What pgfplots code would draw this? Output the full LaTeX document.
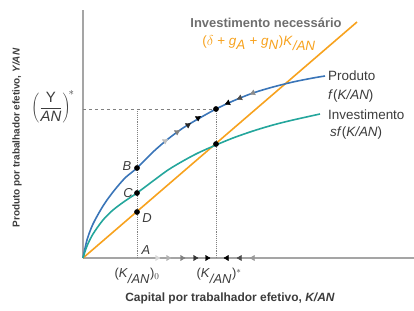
\documentclass[border=0pt]{standalone}
\usepackage{fontspec}
\setmainfont{Liberation Sans}
\usepackage{pgfplots}
\pgfplotsset{compat=1.18}
\definecolor{cblue}{RGB}{58,117,184}
\definecolor{cteal}{RGB}{36,166,156}
\definecolor{corange}{RGB}{247,162,30}
\definecolor{cgray}{RGB}{110,110,110}
\definecolor{caxis}{RGB}{165,165,165}
\definecolor{ctxt}{RGB}{60,60,60}
\begin{document}
\begin{tikzpicture}
\path[use as bounding box, clip] (-83bp,-53bp) rectangle (331bp,258bp);
\begin{axis}[
  at={(0,0)}, anchor=south west,
  scale only axis, width=331bp, height=248bp,
  xmin=0, xmax=331, ymin=0, ymax=248,
  axis lines*=left,
  axis line style={caxis, line width=2bp},
  xtick=\empty, ytick=\empty,
  clip=false,
]
% guide lines
\addplot[gray, dashed, line width=0.7bp] coordinates {(0,149) (133,149)};
\addplot[gray, densely dotted, line width=0.9bp] coordinates {(133,0) (133,149)};
\addplot[gray, densely dotted, line width=0.9bp] coordinates {(54,0) (54,149)};
% orange required investment
\addplot[corange, line width=1.6bp] coordinates {(0,0) (274,236)};
% output f
\addplot[cblue, line width=1.6bp, smooth] coordinates {
(0,0) (4,18) (10,34) (20,52) (30,66) (42,80) (54,90) (70,106) (85,119) (100,130)
(115,139) (133,149) (150,157) (170,165) (190,171) (210,176) (230,180) (242,182)};
% investment sf
\addplot[cteal, line width=1.6bp, smooth] coordinates {
(0,0) (4,12) (10,24) (20,38) (30,48) (42,57) (54,65) (70,77) (85,88) (100,97)
(115,105) (133,113) (150,120) (170,127) (190,133) (210,138) (237,144)};
% arrows on f
\addplot[only marks, mark=triangle*, mark size=3bp, color=black!25, mark options={rotate=-57}] coordinates {(82,117)};
\addplot[only marks, mark=triangle*, mark size=3bp, color=black!50, mark options={rotate=-57}] coordinates {(94,126)};
\addplot[only marks, mark=triangle*, mark size=3bp, color=black!85, mark options={rotate=-57}] coordinates {(105,133)};
\addplot[only marks, mark=triangle*, mark size=3bp, color=black, mark options={rotate=-57}] coordinates {(115,140)};
\addplot[only marks, mark=triangle*, mark size=3bp, color=black, mark options={rotate=112}] coordinates {(145,155)};
\addplot[only marks, mark=triangle*, mark size=3bp, color=black!70, mark options={rotate=112}] coordinates {(157,160)};
\addplot[only marks, mark=triangle*, mark size=3bp, color=black!45, mark options={rotate=112}] coordinates {(170,165)};
% arrows on x axis
\addplot[only marks, mark=triangle*, mark size=3bp, color=black!15, mark options={rotate=-90}] coordinates {(74,0)};
\addplot[only marks, mark=triangle*, mark size=3bp, color=black!30, mark options={rotate=-90}] coordinates {(85,0)};
\addplot[only marks, mark=triangle*, mark size=3bp, color=black!50, mark options={rotate=-90}] coordinates {(99,0)};
\addplot[only marks, mark=triangle*, mark size=3bp, color=black!80, mark options={rotate=-90}] coordinates {(112,0)};
\addplot[only marks, mark=triangle*, mark size=3bp, color=black, mark options={rotate=-90}] coordinates {(124,0)};
\addplot[only marks, mark=triangle*, mark size=3bp, color=black, mark options={rotate=90}] coordinates {(144,0)};
\addplot[only marks, mark=triangle*, mark size=3bp, color=black!70, mark options={rotate=90}] coordinates {(157,0)};
\addplot[only marks, mark=triangle*, mark size=3bp, color=black!40, mark options={rotate=90}] coordinates {(170,0)};
% points
\addplot[only marks, mark=*, mark size=2.6bp, black] coordinates {(54,90) (54,65) (54,46) (133,149) (133,114)};
% labels
\node[font=\fontsize{13}{13}\selectfont\bfseries, text=cgray] at (axis cs:183,235) {Investimento necessário};
\node[font=\fontsize{13.5}{13.5}\selectfont, text=corange] at (axis cs:176,215) {($\delta$ + \textit{g}$_{\textit{A}}$ + \textit{g}$_{\textit{N}}$)\textit{K}$_{\textit{/AN}}$};
\node[font=\fontsize{13.5}{13.5}\selectfont, text=ctxt, anchor=west, inner sep=0pt] at (axis cs:245,182) {Produto};
\node[font=\fontsize{13.5}{13.5}\selectfont, text=ctxt, anchor=west, inner sep=0pt] at (axis cs:245,162) {\textit{f}(\textit{K/AN})};
\node[font=\fontsize{13.5}{13.5}\selectfont, text=ctxt, anchor=west, inner sep=0pt] at (axis cs:245,143) {Investimento};
\node[font=\fontsize{13.5}{13.5}\selectfont, text=ctxt, anchor=west, inner sep=0pt] at (axis cs:247,125) {\textit{sf}(\textit{K/AN})};
\node[font=\fontsize{13}{13}\selectfont\itshape, text=ctxt] at (axis cs:44,92) {B};
\node[font=\fontsize{13}{13}\selectfont\itshape, text=ctxt] at (axis cs:45,65) {C};
\node[font=\fontsize{13}{13}\selectfont\itshape, text=ctxt] at (axis cs:64,40) {D};
\node[font=\fontsize{13}{13}\selectfont\itshape, text=ctxt] at (axis cs:63,8) {A};
\node[font=\fontsize{13}{13}\selectfont, text=ctxt] at (axis cs:54,-18) {(\textit{K}$_{\textit{/AN}}$)$_0$};
\node[font=\fontsize{13}{13}\selectfont, text=ctxt] at (axis cs:136,-18) {(\textit{K}$_{\textit{/AN}}$)$^{*}$};
\node[font=\fontsize{12}{12}\selectfont\bfseries, text=ctxt] at (axis cs:147,-40) {Capital por trabalhador efetivo, \textit{K/AN}};
\node[font=\fontsize{10}{10}\selectfont\bfseries, text=ctxt, rotate=90] at (axis cs:-66,120) {Produto por trabalhador efetivo, \textit{Y/AN}};
\node[font=\fontsize{15}{15}\selectfont, text=ctxt, inner sep=0pt] at (axis cs:-30,151) {$\displaystyle\left(\frac{\mathrm{Y}}{\mathit{AN}}\right)^{\!*}$};
\end{axis}
\end{tikzpicture}
\end{document}
